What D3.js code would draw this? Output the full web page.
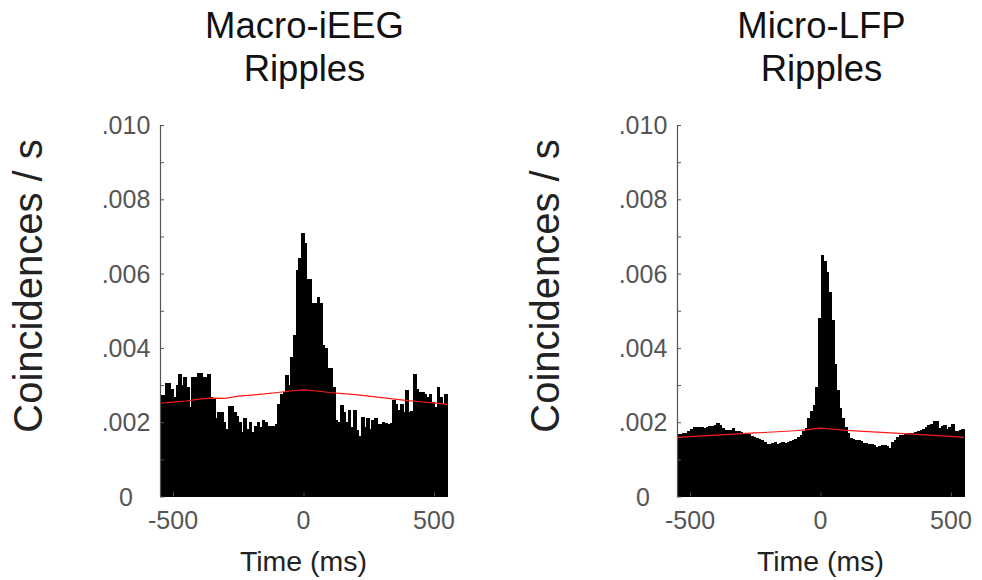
<!DOCTYPE html>
<html>
<head>
<meta charset="utf-8">
<script src="https://cdn.jsdelivr.net/npm/d3@7"></script>
<style>
  html, body { margin: 0; padding: 0; background: #fff; }
  svg { display: block; font-family: "Liberation Sans", Arial, Helvetica, sans-serif; }
</style>
</head>
<body>
<svg id="chart" width="982" height="580"></svg>
<script>
// ---------------- DATA ----------------
const panelTitles = [["Macro-iEEG", "Ripples"], ["Micro-LFP", "Ripples"]];
const xLabel = "Time (ms)";
const yLabel = "Coincidences / s";
const xDomain = [-550, 550];
const binWidth = 10; // ms
const binStarts = d3.range(-550, 550, binWidth); // 110 bins
const xTicks = [-500, 0, 500];
const xTickLabels = ["-500", "0", "500"];
const yMinorTicks = [0, 0.001, 0.002, 0.003, 0.004, 0.005, 0.006, 0.007, 0.008, 0.009, 0.010];
const yTicks = [0, 0.002, 0.004, 0.006, 0.008, 0.010];
const yTickLabels = ["0", ".002", ".004", ".006", ".008", ".010"];

// coincidence rates per bin (per second)
const macroRates = [
  0.00272, 0.00272, 0.00305, 0.00305, 0.00290, 0.00268, 0.00300, 0.00329, 0.00300, 0.00323,
  0.00295, 0.00241, 0.00321, 0.00321, 0.00332, 0.00332, 0.00323, 0.00323, 0.00331, 0.00268,
  0.00264, 0.00210, 0.00227, 0.00227, 0.00200, 0.00183, 0.00243, 0.00243, 0.00227, 0.00217,
  0.00200, 0.00173, 0.00210, 0.00183, 0.00200, 0.00173, 0.00190, 0.00200, 0.00188, 0.00205,
  0.00200, 0.00190, 0.00190, 0.00190, 0.00195, 0.00250, 0.00277, 0.00280, 0.00326, 0.00300,
  0.00375, 0.00434, 0.00609, 0.00641, 0.00710, 0.00682, 0.00585, 0.00585, 0.00520, 0.00520,
  0.00536, 0.00520, 0.00407, 0.00399, 0.00345, 0.00345, 0.00295, 0.00205, 0.00200, 0.00245,
  0.00227, 0.00200, 0.00232, 0.00187, 0.00232, 0.00178, 0.00164, 0.00214, 0.00187, 0.00210,
  0.00182, 0.00205, 0.00210, 0.00195, 0.00195, 0.00200, 0.00198, 0.00195, 0.00198, 0.00259,
  0.00250, 0.00232, 0.00250, 0.00227, 0.00286, 0.00227, 0.00230, 0.00331, 0.00290, 0.00282,
  0.00282, 0.00277, 0.00268, 0.00277, 0.00255, 0.00241, 0.00295, 0.00268, 0.00250, 0.00277
];
const microRates = [
  0.00168, 0.00168, 0.00170, 0.00172, 0.00177, 0.00182, 0.00186, 0.00188, 0.00187, 0.00187,
  0.00184, 0.00188, 0.00189, 0.00190, 0.00192, 0.00199, 0.00192, 0.00185, 0.00180, 0.00178,
  0.00178, 0.00185, 0.00177, 0.00176, 0.00173, 0.00170, 0.00170, 0.00168, 0.00164, 0.00160,
  0.00157, 0.00154, 0.00152, 0.00147, 0.00142, 0.00140, 0.00145, 0.00146, 0.00141, 0.00145,
  0.00147, 0.00145, 0.00146, 0.00150, 0.00152, 0.00155, 0.00160, 0.00166, 0.00175, 0.00184,
  0.00210, 0.00230, 0.00245, 0.00296, 0.00480, 0.00650, 0.00635, 0.00605, 0.00551, 0.00475,
  0.00358, 0.00287, 0.00237, 0.00210, 0.00188, 0.00170, 0.00158, 0.00156, 0.00153, 0.00153,
  0.00150, 0.00145, 0.00143, 0.00142, 0.00141, 0.00138, 0.00134, 0.00136, 0.00138, 0.00138,
  0.00135, 0.00130, 0.00148, 0.00152, 0.00160, 0.00166, 0.00166, 0.00168, 0.00170, 0.00172,
  0.00172, 0.00174, 0.00177, 0.00179, 0.00183, 0.00188, 0.00192, 0.00194, 0.00202, 0.00203,
  0.00185, 0.00190, 0.00192, 0.00182, 0.00186, 0.00194, 0.00177, 0.00177, 0.00180, 0.00182
];

// shuffled / chance level (red line)
const chanceTimes = [-550, -500, -450, -400, -350, -300, -250, -200, -150, -100, -50, 0,
                     50, 100, 150, 200, 250, 300, 350, 400, 450, 500, 550];
const macroChance = [0.00251, 0.00254, 0.00257, 0.00262, 0.00265, 0.00264, 0.00270, 0.00273, 0.00276, 0.00280, 0.00284, 0.00287,
                     0.00284, 0.00280, 0.00277, 0.00274, 0.00270, 0.00266, 0.00262, 0.00258, 0.00255, 0.00252, 0.00248];
const microChance = [0.00159, 0.00161, 0.00163, 0.00165, 0.00167, 0.00169, 0.00171, 0.00173, 0.00175, 0.00177, 0.00180, 0.00184,
                     0.00181, 0.00178, 0.00176, 0.00174, 0.00172, 0.00170, 0.00168, 0.00166, 0.00164, 0.00162, 0.00159];

const panels = [
  { title: panelTitles[0], rates: macroRates, chance: macroChance, left: 160 },
  { title: panelTitles[1], rates: microRates, chance: microChance, left: 677 }
];

// ---------------- DRAW ----------------
const svg = d3.select("#chart");
const plotW = 287, plotTop = 125, plotBottom = 496.5;
const axisColor = "#555";
const labelColor = "#222";

panels.forEach(p => {
  const x = d3.scaleLinear().domain(xDomain).range([p.left, p.left + plotW]);
  const y = d3.scaleLinear().domain([0, 0.010]).range([plotBottom, plotTop]);
  const g = svg.append("g");
  const cx = p.left + plotW / 2;

  // bars
  g.append("g").selectAll("rect")
    .data(binStarts.map((t, i) => ({ t, v: p.rates[i] })))
    .join("rect")
    .attr("x", d => x(d.t))
    .attr("width", d => x(d.t + binWidth) - x(d.t) + 1)
    .attr("y", d => y(d.v))
    .attr("height", d => y(0) - y(d.v))
    .attr("fill", "#000")
    .attr("shape-rendering", "crispEdges");

  // chance line
  const line = d3.line().x(d => x(d[0])).y(d => y(d[1]));
  g.append("path")
    .datum(chanceTimes.map((t, i) => [t, p.chance[i]]))
    .attr("d", line)
    .attr("fill", "none")
    .attr("stroke", "#ff1a1a")
    .attr("stroke-width", 1.2);

  // y axis (ticks inward)
  const yAxis = d3.axisLeft(y).tickValues(yMinorTicks).tickSizeInner(-4).tickSizeOuter(0).tickFormat("");
  const ya = g.append("g").attr("transform", `translate(${p.left},0)`).call(yAxis);
  ya.select(".domain").attr("stroke", axisColor).attr("stroke-width", 1.2);
  ya.selectAll(".tick line").attr("stroke", axisColor);
  g.append("g").selectAll("text")
    .data(yTicks)
    .join("text")
    .attr("x", p.left - 34)
    .attr("y", d => y(d))
    .attr("dy", "0.36em")
    .attr("text-anchor", "middle")
    .attr("font-size", 25)
    .attr("fill", axisColor)
    .text((d, i) => yTickLabels[i]);

  // x axis ticks (inward)
  const xAxis = d3.axisBottom(x).tickValues(xTicks).tickSizeInner(-4).tickSizeOuter(0).tickFormat("");
  const xa = g.append("g").attr("transform", `translate(0,${plotBottom})`).call(xAxis);
  xa.select(".domain").attr("stroke", "none");
  xa.selectAll(".tick line").attr("stroke", axisColor);
  g.append("g").selectAll("text")
    .data(xTicks)
    .join("text")
    .attr("x", d => x(d))
    .attr("y", 529)
    .attr("text-anchor", "middle")
    .attr("font-size", 25)
    .attr("fill", axisColor)
    .text((d, i) => xTickLabels[i]);

  // x label
  g.append("text")
    .attr("x", cx).attr("y", 571)
    .attr("text-anchor", "middle")
    .attr("font-size", 28.5)
    .attr("fill", labelColor)
    .text(xLabel);

  // y label
  g.append("text")
    .attr("transform", `translate(${p.left - 118},286) rotate(-90)`)
    .attr("text-anchor", "middle")
    .attr("font-size", 40)
    .attr("fill", labelColor)
    .text(yLabel);

  // title
  g.append("text")
    .attr("x", cx + 1).attr("y", 38)
    .attr("text-anchor", "middle")
    .attr("font-size", 36.5)
    .attr("fill", "#111")
    .text(p.title[0]);
  g.append("text")
    .attr("x", cx + 1).attr("y", 81)
    .attr("text-anchor", "middle")
    .attr("font-size", 36.5)
    .attr("fill", "#111")
    .text(p.title[1]);
});
</script>
</body>
</html>
